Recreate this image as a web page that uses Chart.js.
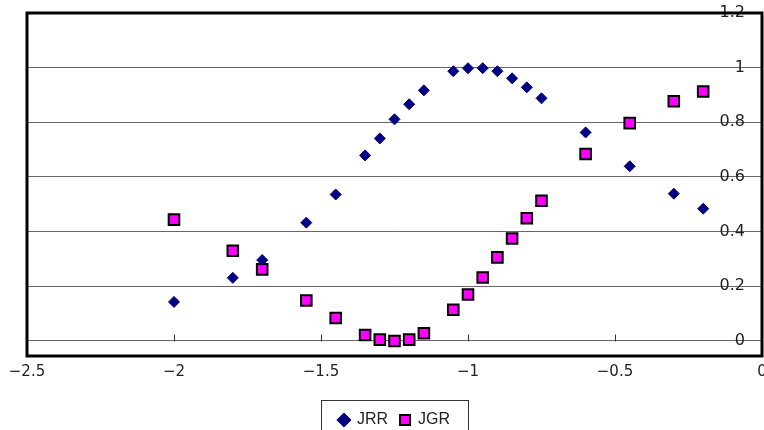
<!DOCTYPE html>
<html>
<head>
<meta charset="utf-8">
<script src="https://cdn.jsdelivr.net/npm/chart.js@4/dist/chart.umd.min.js"></script>
<style>
    html, body { margin: 0; padding: 0; background: #fff; }
    #wrap { width: 764px; height: 430px; position: relative; }
</style>
</head>
<body>
<div id="wrap"><canvas id="myChart"></canvas></div>
<script>
// x positions shared by both series
const xValues = [-2.0, -1.8, -1.7, -1.55, -1.45, -1.35, -1.3, -1.25, -1.2, -1.15, -1.05,
    -1.0, -0.95, -0.9, -0.85, -0.8, -0.75, -0.6, -0.45, -0.3, -0.2];
const jrrValues = [0.143, 0.231, 0.296, 0.433, 0.536, 0.679, 0.741, 0.811, 0.866, 0.917, 0.987,
    0.998, 0.998, 0.987, 0.961, 0.928, 0.888, 0.763, 0.639, 0.539, 0.484];
const jgrValues = [0.444, 0.330, 0.262, 0.148, 0.084, 0.022, 0.005, 0.0, 0.005, 0.028, 0.114,
    0.170, 0.232, 0.306, 0.375, 0.449, 0.513, 0.684, 0.797, 0.877, 0.913];
const xTicks = [-2.5, -2, -1.5, -1, -0.5, 0];
const yTicks = [0, 0.2, 0.4, 0.6, 0.8, 1, 1.2];

function toPoints(ys){
    return xValues.map(function(x, i){ return {x: x, y: ys[i]} })
}

// plot frame, small x ticks on the zero line, box around legend
const framePlugin = {
    id: 'frame',
    afterDraw(chart){
        const ctx = chart.ctx
        const a = chart.chartArea
        const xs = chart.scales.x, ys = chart.scales.y
        ctx.save()
        const y0 = Math.round(ys.getPixelForValue(0)) + 0.5
        ctx.strokeStyle = '#333'
        ctx.lineWidth = 1
        xTicks.forEach(function(t){
            const px = Math.round(xs.getPixelForValue(t)) + 0.5
            ctx.beginPath()
            ctx.moveTo(px, y0)
            ctx.lineTo(px, y0 - 7)
            ctx.stroke()
        })
        ctx.strokeStyle = '#000'
        ctx.lineWidth = 3
        ctx.strokeRect(a.left, a.top, a.right - a.left, a.bottom - a.top)

        const lg = chart.legend
        if (lg && lg.legendHitBoxes.length){
            let l = Infinity, r = -Infinity
            lg.legendHitBoxes.forEach(function(h){
                l = Math.min(l, h.left)
                r = Math.max(r, h.left + h.width)
            })
            ctx.strokeStyle = '#333'
            ctx.lineWidth = 1
            ctx.strokeRect(Math.round(l - 18) + 0.5, Math.round(lg.top) + 0.5, Math.round(r - l + 36), 60)
        }
        ctx.restore()
    }
};

const config = {
    type: 'scatter',
    data: {
        datasets: [{
            label: 'JRR',
            data: toPoints(jrrValues),
            pointStyle: 'rectRot',
            pointRadius: 5.5,
            backgroundColor: '#000080',
            borderColor: '#000080',
            borderWidth: 1
        }, {
            label: 'JGR',
            data: toPoints(jgrValues),
            pointStyle: 'rect',
            pointRadius: 7.5,
            backgroundColor: '#ff00ff',
            borderColor: '#000000',
            borderWidth: 2
        }]
    },
    options: {
        responsive: true,
        maintainAspectRatio: false,
        animation: false,
        layout: { autoPadding: false, padding: { top: 13, left: 27, right: 2, bottom: -8 } },
        scales: {
            x: {
                type: 'linear',
                min: -2.5,
                max: 0,
                grid: { display: false, drawTicks: false },
                border: { display: false },
                afterBuildTicks(s){ s.ticks = xTicks.map(function(v){ return {value: v} }) },
                afterFit(s){ s.paddingLeft = 0; s.paddingRight = 0; s.height = 44 },
                ticks: {
                    autoSkip: false,
                    maxRotation: 0,
                    padding: 7,
                    color: '#222',
                    font: { family: 'DejaVu Sans', size: 15 },
                    callback: function(v){ return String(v).replace('-', '\u2212') }
                }
            },
            y: {
                type: 'linear',
                position: 'right',
                min: -0.055,
                max: 1.2,
                grid: { color: '#666', lineWidth: 1, drawTicks: false, tickLength: 0 },
                border: { display: false },
                afterBuildTicks(s){ s.ticks = yTicks.map(function(v){ return {value: v} }) },
                afterFit(s){ s.width = 0 },
                ticks: {
                    mirror: true,
                    padding: -17,
                    color: '#222',
                    font: { family: 'DejaVu Sans', size: 16 },
                    callback: function(v){ return String(v) }
                }
            }
        },
        plugins: {
            tooltip: { enabled: false },
            legend: {
                position: 'bottom',
                labels: {
                    usePointStyle: true,
                    boxWidth: 10,
                    boxHeight: 10,
                    padding: 12,
                    color: '#222',
                    font: { family: 'Liberation Sans', size: 16 }
                }
            }
        }
    },
    plugins: [framePlugin]
};

var myChart = new Chart(document.getElementById('myChart'), config);
</script>
</body>
</html>
